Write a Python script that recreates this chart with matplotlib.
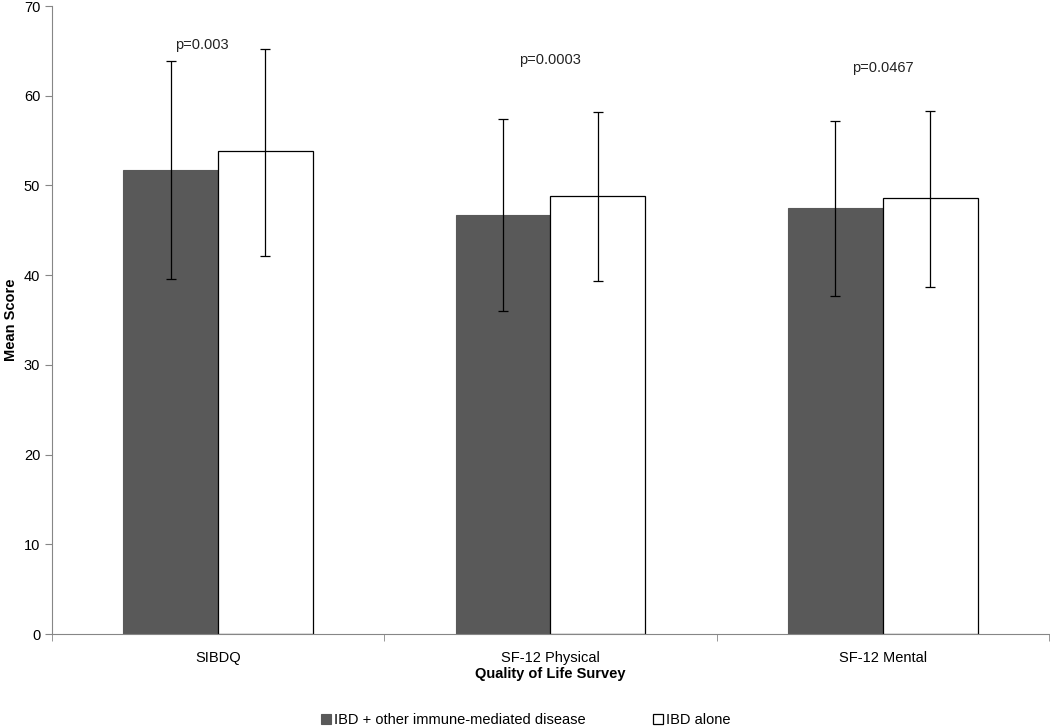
import matplotlib
matplotlib.use('AGG')
import matplotlib.pyplot as plt
import numpy as np

plt.rcParams['font.family'] = ['Liberation Sans', 'DejaVu Sans']

categories = ['SIBDQ', 'SF-12 Physical', 'SF-12 Mental']
immune_mean = [51.7, 46.7, 47.5]
immune_low = [39.6, 36.0, 37.7]
immune_high = [63.9, 57.4, 57.2]
alone_mean = [53.8, 48.8, 48.6]
alone_low = [42.1, 39.4, 38.7]
alone_high = [65.2, 58.2, 58.3]
p_labels = ['p=0.003', 'p=0.0003', 'p=0.0467']
p_heights = [65.7, 64.0, 63.1]

fig = plt.figure(figsize=(10.5, 7.26), dpi=100)
ax = fig.add_axes([0.0495, 0.1267, 0.9495, 0.865])

x = np.arange(len(categories))
w = 0.285
imm = np.array(immune_mean)
aln = np.array(alone_mean)
imm_err = [imm - np.array(immune_low), np.array(immune_high) - imm]
aln_err = [aln - np.array(alone_low), np.array(alone_high) - aln]

ax.bar(x - w/2, imm, w, color='#595959', edgecolor='#595959', linewidth=0.8,
       label='IBD + other immune-mediated disease')
ax.bar(x + w/2, aln, w, color='white', edgecolor='black', linewidth=0.9,
       label='IBD alone')
ax.errorbar(x - w/2, imm, yerr=imm_err, fmt='none', ecolor='black',
            elinewidth=0.9, capsize=3.5, capthick=0.9)
ax.errorbar(x + w/2, aln, yerr=aln_err, fmt='none', ecolor='black',
            elinewidth=0.9, capsize=3.5, capthick=0.9)

for i, (lab, h) in enumerate(zip(p_labels, p_heights)):
    xx = i - 0.05 if i == 0 else i
    ax.text(xx, h, lab, ha='center', va='center', fontsize=10.5, color='#222222')

ax.set_xlim(-0.5, 2.5)
ax.set_ylim(0, 70)
ax.set_yticks(range(0, 71, 10))
ax.set_xticks(x)
ax.set_xticklabels(categories)
ax.set_xticks([-0.5, 0.5, 1.5, 2.5], minor=True)
ax.tick_params(axis='x', which='major', length=0, labelsize=10.5, pad=12)
ax.tick_params(axis='x', which='minor', length=5, color='#868686', direction='out')
ax.tick_params(axis='y', length=5, color='#868686', labelsize=10.5, direction='out')
for s in ['top', 'right']:
    ax.spines[s].set_visible(False)
for s in ['left', 'bottom']:
    ax.spines[s].set_color('#868686')

ax.set_ylabel('Mean Score', fontsize=10.5, fontweight='bold', labelpad=4)
ax.set_xlabel('Quality of Life Survey', fontsize=10.5, fontweight='bold', labelpad=2)

ax.legend(loc='upper center', bbox_to_anchor=(0.475, -0.105), ncol=2, frameon=False,
          fontsize=10.5, handlelength=0.7, handleheight=0.7, columnspacing=4.6,
          handletextpad=0.2)

plt.savefig('out.png', dpi=100)
